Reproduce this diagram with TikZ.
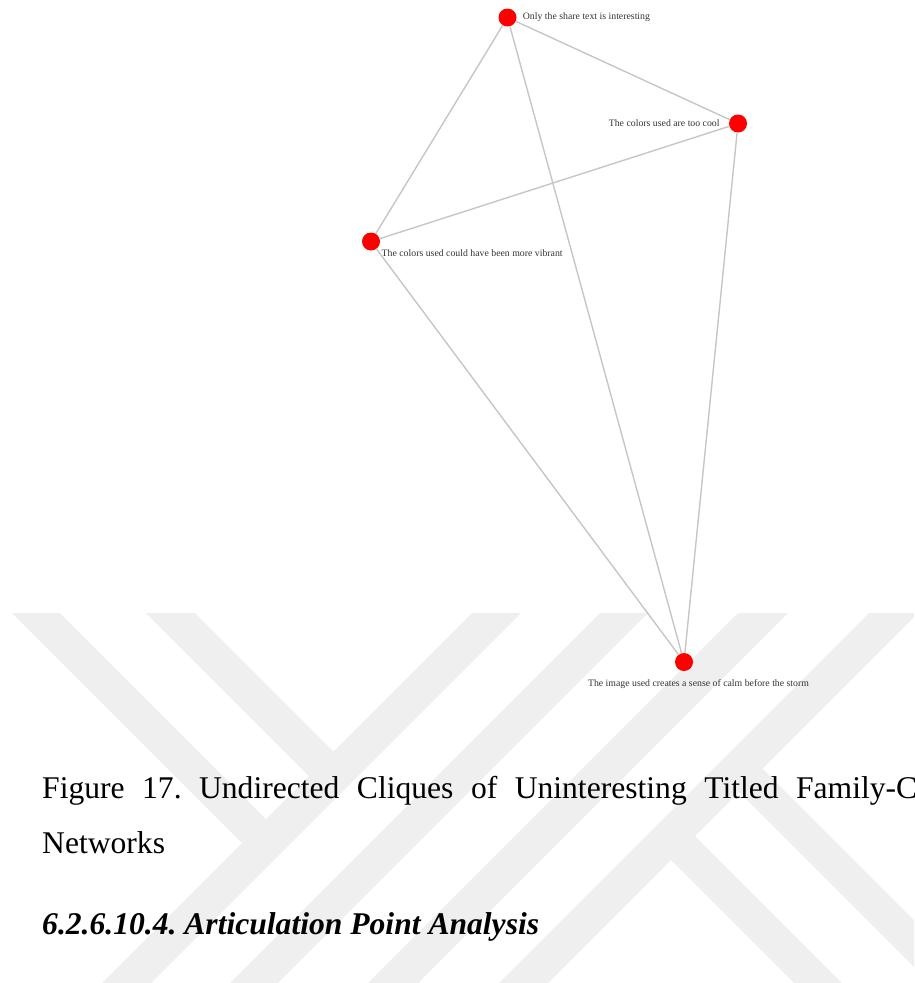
\documentclass[tikz,border=0pt]{standalone}
\usepackage{fontspec}
\setmainfont{Liberation Serif}
\usetikzlibrary{positioning}
\definecolor{wmgray}{RGB}{239,239,239}
\definecolor{edgegray}{RGB}{198,198,198}
\frenchspacing

\begin{document}
\begin{tikzpicture}[x=1pt,y=-1pt,
		vertex/.style={circle,fill=red,inner sep=0pt,minimum size=18pt},
		edge/.style={draw=edgegray,line width=1.4pt},
		lbl/.style={font=\fontsize{9.8}{11}\selectfont,text=black!80,inner sep=0pt},
		bigtext/.style={font=\fontsize{31.6}{38}\selectfont,inner sep=0pt,anchor=base west}]
		\useasboundingbox (0,0) rectangle (914,983);
		\begin{scope}
		\clip (0,613) rectangle (914,983);
		\fill[wmgray] (12,613) -- (60,613) -- (266,819) -- (242,843) -- cycle;
		\fill[wmgray] (146,613) -- (195,613) -- (333.5,751.5) -- (309,776) -- cycle;
		\fill[wmgray] (472,613) -- (521,613) -- (151,983) -- (102,983) -- cycle;
		\fill[wmgray] (600,613) -- (648,613) -- (278,983) -- (230,983) -- cycle;
		\fill[wmgray] (738,613) -- (788,613) -- (418,983) -- (368,983) -- cycle;
		\fill[wmgray] (869,613) -- (918,613) -- (548,983) -- (499,983) -- cycle;
		\fill[wmgray] (671,860) -- (695,836) -- (842,983) -- (794,983) -- cycle;
		\fill[wmgray] (738.5,791.5) -- (762,768) -- (977,983) -- (930,983) -- cycle;
		\end{scope}
		\node[vertex] (share) at (507.5,17.5) {};
		\node[vertex] (cool) at (738,123.5) {};
		\node[vertex] (vibrant) at (371,241.5) {};
		\node[vertex] (storm) at (684,662) {};
		\draw[edge] (share) -- (cool);
		\draw[edge] (share) -- (vibrant);
		\draw[edge] (share) -- (storm);
		\draw[edge] (cool) -- (vibrant);
		\draw[edge] (cool) -- (storm);
		\draw[edge] (vibrant) -- (storm);
		\node[lbl,right=6pt of share] (sharelbl) {Only the share text is interesting};
		\node[lbl,left=9pt of cool] (coollbl) {The colors used are too cool};
		\node[lbl,anchor=north west] (vibrantlbl) at ([xshift=4pt,yshift=-1pt]vibrant.south east) {The colors used could have been more vibrant};
		\node[lbl,anchor=north] (stormlbl) at ([xshift=14.5pt,yshift=-8pt]storm.south) {The image used creates a sense of calm before the storm};
		\node[bigtext] (cap1) at (42,798) {\makebox[875pt][s]{Figure 17. Undirected Cliques of Uninteresting Titled Family-C}};
		\node[bigtext] (cap2) at (42,853) {Networks};
		\node[bigtext,font=\fontsize{31.6}{38}\selectfont\bfseries\itshape] (head) at (42,934) {6.2.6.10.4. Articulation Point Analysis};
\end{tikzpicture}
\end{document}
